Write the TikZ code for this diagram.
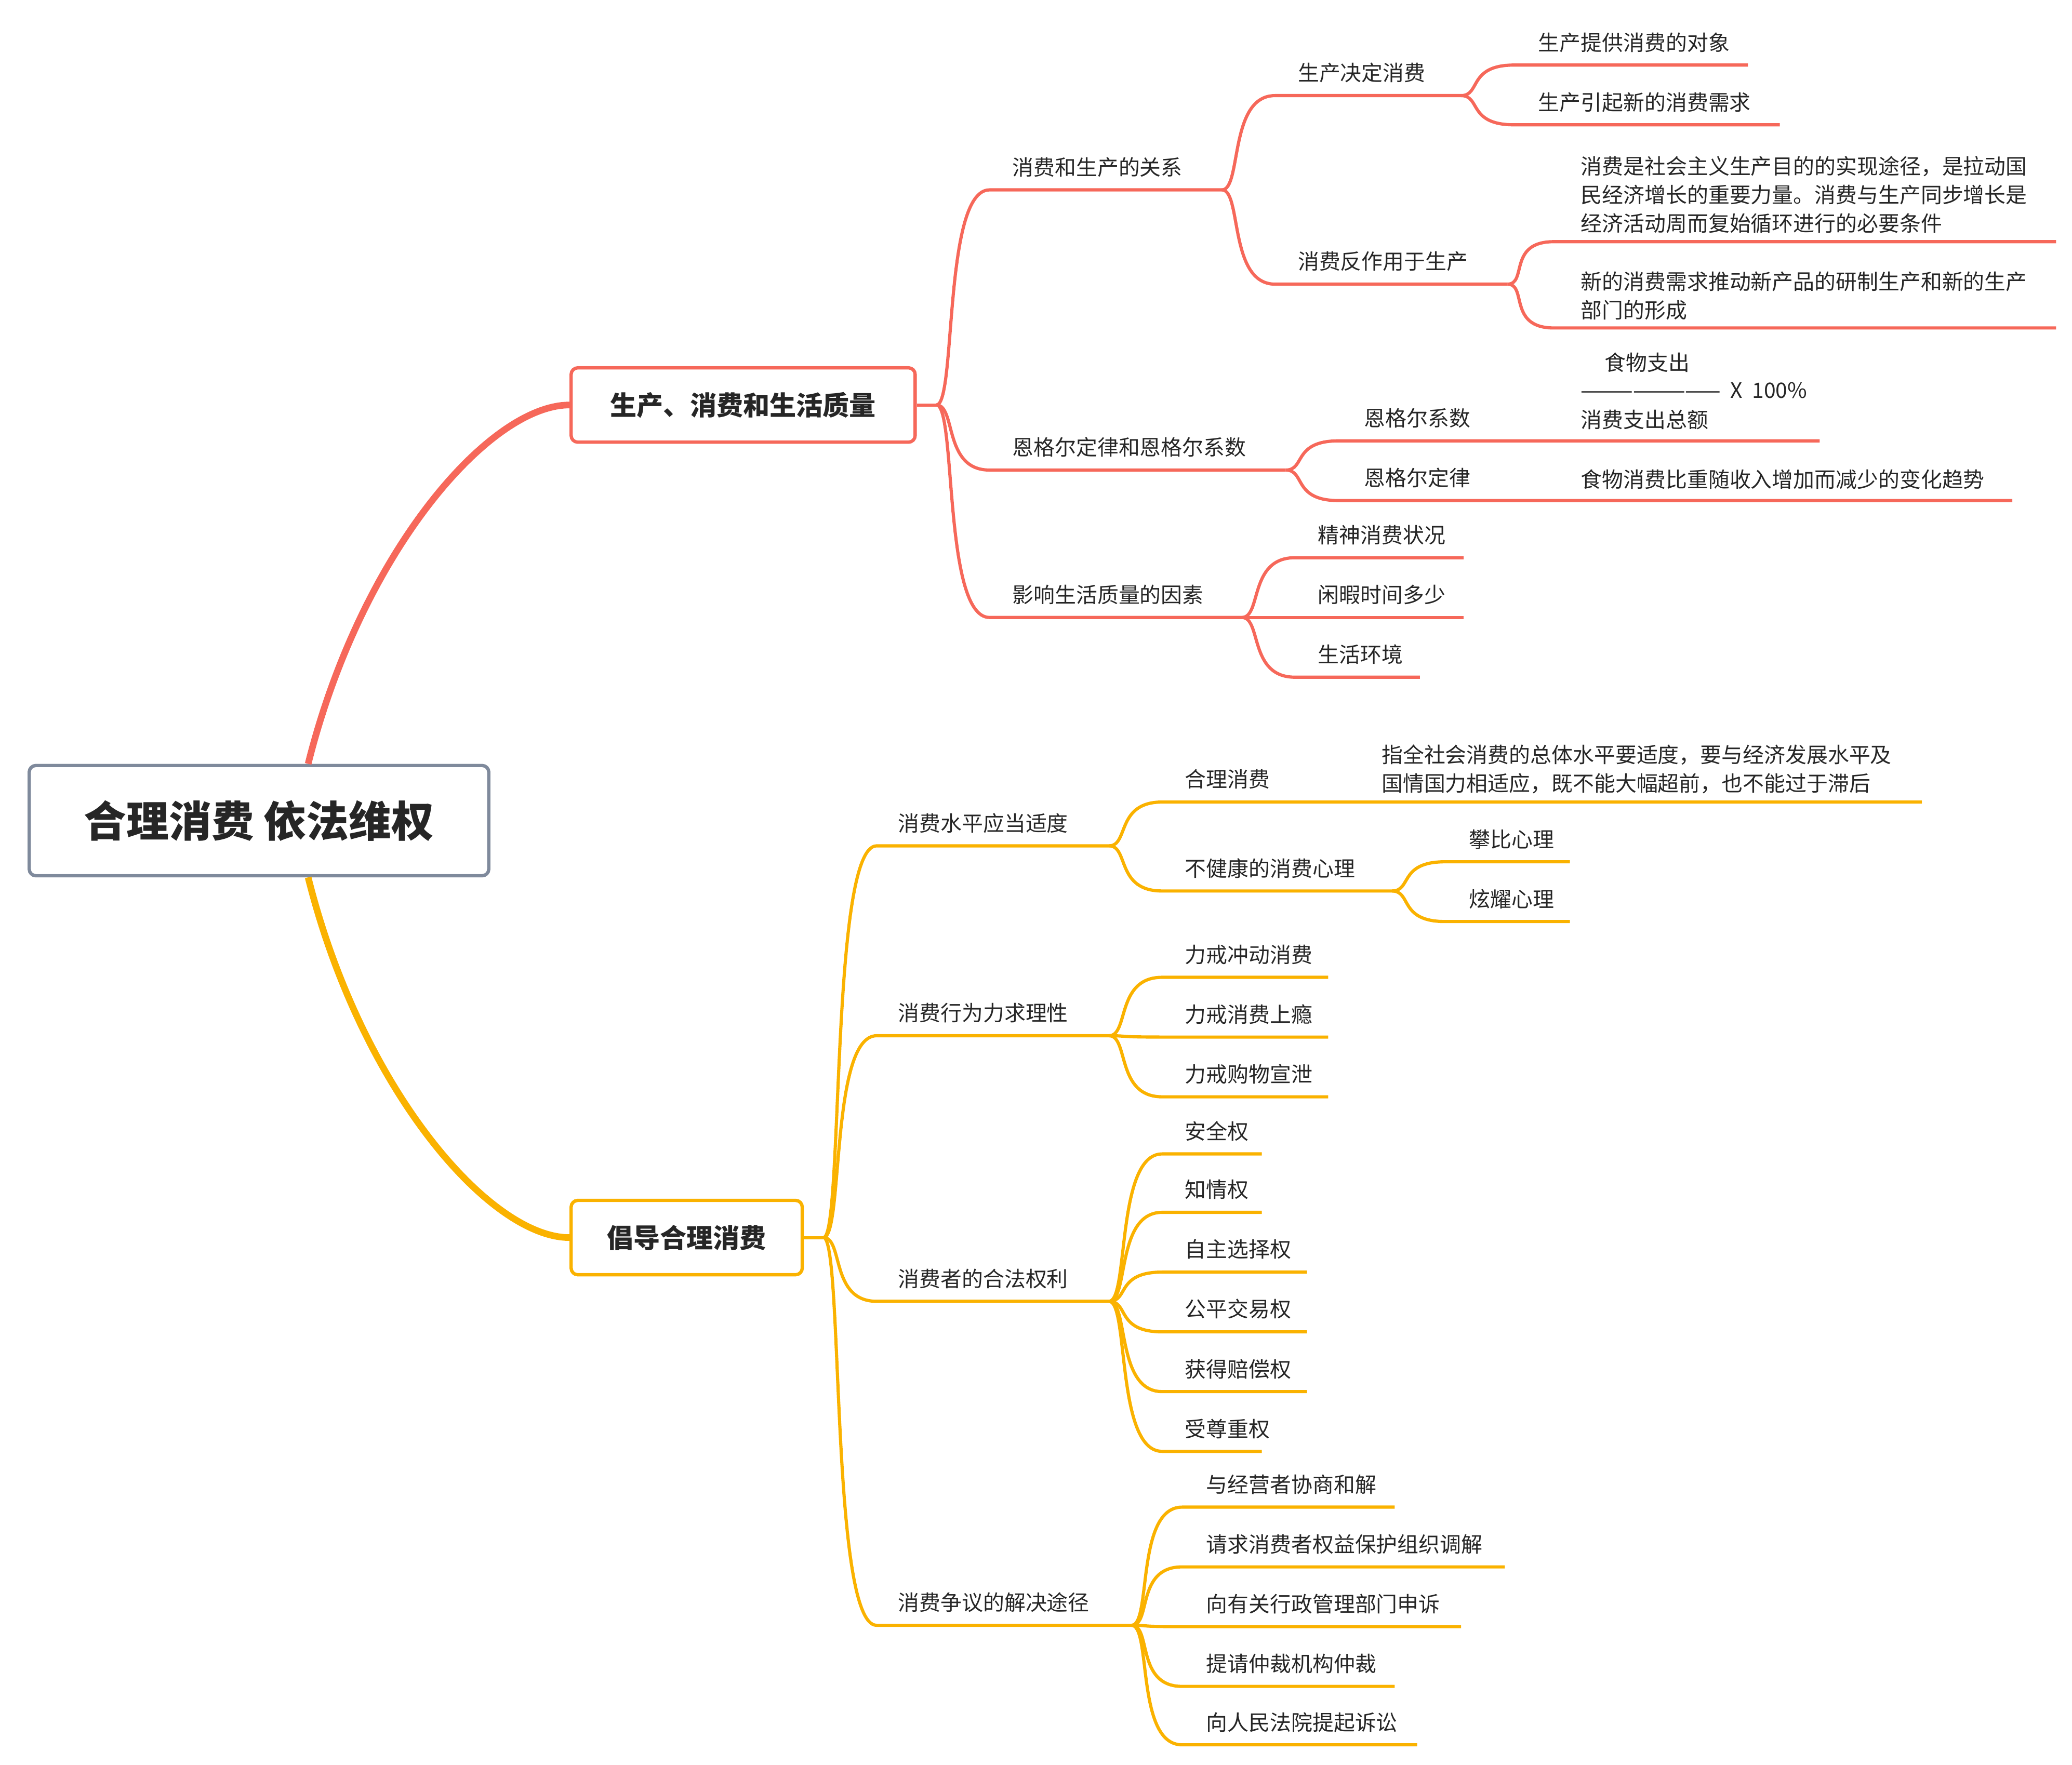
\documentclass[tikz,border=0pt]{standalone}
\usepackage{fontspec}
\setmainfont{Noto Sans CJK SC}
\definecolor{rd}{RGB}{246,104,90}
\definecolor{og}{RGB}{250,178,0}
\definecolor{gr}{RGB}{127,138,156}
\tikzset{lw/.style={line width=2.4pt},
 lbl/.style={anchor=base west,inner sep=0,font=\fontsize{16}{21.5}\selectfont,text=black!85},
 mlbl/.style={anchor=south west,inner sep=0,align=left,font=\fontsize{16}{21.5}\selectfont,text=black!85}}
\newcommand\br[8]{%
 \coordinate (#3-s) at (#5,#4); \coordinate (#3-e) at (#6,#4);
 \draw[#1,lw] (#2) .. controls +(15,0) and +(-35,0) .. (#3-s) -- (#3-e);
 \node[lbl] (#3) at (#7,#4-11) {#8};}
\begin{document}
\begin{tikzpicture}[x=1pt,y=-1pt]
\useasboundingbox (0,0) rectangle (1560,1329);
% root
\node[draw=gr,line width=2.5pt,rounded corners=5pt,minimum width=346pt,minimum height=83pt,font=\fontsize{32}{36}\selectfont\bfseries,text=black!85] (root) at (195,618) {合理消费 依法维权};
\node[draw=rd,line width=2.5pt,rounded corners=5pt,minimum width=259pt,minimum height=56pt,font=\fontsize{20}{24}\selectfont\bfseries,text=black!85] (b1) at (559.5,305) {生产、消费和生活质量};
\node[draw=og,line width=2.5pt,rounded corners=5pt,minimum width=174pt,minimum height=56pt,font=\fontsize{20}{24}\selectfont\bfseries,text=black!85] (b2) at (517,932) {倡导合理消费};
\draw[rd,line width=5pt] ([xshift=37pt]root.north) .. controls +(40,-160) and +(-60,0) .. (b1.west);
\draw[og,line width=5pt] ([xshift=37pt]root.south) .. controls +(40,160) and +(-60,0) .. (b2.west);
\coordinate (t1) at (705,305); \draw[rd,lw] (b1.east) -- (t1);
\coordinate (t2) at (620,932); \draw[og,lw] (b2.east) -- (t2);
% branch 1
\br{rd}{t1}{a1}{143}{745}{920}{762}{消费和生产的关系}
\br{rd}{t1}{a2}{354}{745}{968}{762}{恩格尔定律和恩格尔系数}
\br{rd}{t1}{a3}{465}{745}{935}{762}{影响生活质量的因素}
\br{rd}{a1-e}{a11}{72}{960}{1100}{977}{生产决定消费}
\br{rd}{a1-e}{a12}{214}{960}{1135}{977}{消费反作用于生产}
\br{rd}{a11-e}{a111}{49}{1140}{1316}{1158}{生产提供消费的对象}
\br{rd}{a11-e}{a112}{94}{1140}{1340}{1158}{生产引起新的消费需求}
\br{rd}{a12-e}{a121}{182}{1170}{1548}{1190}{}
\node[mlbl] at (1190,176) {消费是社会主义生产目的的实现途径，是拉动国\\民经济增长的重要力量。消费与生产同步增长是\\经济活动周而复始循环进行的必要条件};
\br{rd}{a12-e}{a122}{247}{1170}{1548}{1190}{}
\node[mlbl] at (1190,241) {新的消费需求推动新产品的研制生产和新的生产\\部门的形成};
\br{rd}{a2-e}{a21}{332}{1008}{1370}{1027}{恩格尔系数}
\br{rd}{a2-e}{a22}{377}{1008}{1515}{1027}{恩格尔定律}
\node[lbl] (f1) at (1208,279) {食物支出};
\node[lbl] (f2) at (1190,300) {————————\ \ X\ \ 100\%};
\node[lbl] (f3) at (1190,322) {消费支出总额};
\node[lbl] (g1) at (1190,367) {食物消费比重随收入增加而减少的变化趋势};
\br{rd}{a3-e}{a31}{420}{975}{1102}{992}{精神消费状况}
\br{rd}{a3-e}{a32}{465}{975}{1102}{992}{闲暇时间多少}
\br{rd}{a3-e}{a33}{510}{975}{1069}{992}{生活环境}
% branch 2
\br{og}{t2}{c1}{637}{660}{835}{676}{消费水平应当适度}
\br{og}{t2}{c2}{780}{660}{835}{676}{消费行为力求理性}
\br{og}{t2}{c3}{980}{660}{835}{676}{消费者的合法权利}
\br{og}{t2}{c4}{1224}{660}{852}{676}{消费争议的解决途径}
\br{og}{c1-e}{c11}{604}{875}{1447}{892}{合理消费}
\node[mlbl] at (1040,598) {指全社会消费的总体水平要适度，要与经济发展水平及\\国情国力相适应，既不能大幅超前，也不能过于滞后};
\br{og}{c1-e}{c12}{671}{875}{1048}{892}{不健康的消费心理}
\br{og}{c12-e}{c121}{649}{1088}{1182}{1106}{攀比心理}
\br{og}{c12-e}{c122}{694}{1088}{1182}{1106}{炫耀心理}
\br{og}{c2-e}{c21}{736}{875}{1000}{892}{力戒冲动消费}
\br{og}{c2-e}{c22}{781}{875}{1000}{892}{力戒消费上瘾}
\br{og}{c2-e}{c23}{826}{875}{1000}{892}{力戒购物宣泄}
\br{og}{c3-e}{c31}{869}{875}{950}{892}{安全权}
\br{og}{c3-e}{c32}{913}{875}{950}{892}{知情权}
\br{og}{c3-e}{c33}{958}{875}{984}{892}{自主选择权}
\br{og}{c3-e}{c34}{1003}{875}{984}{892}{公平交易权}
\br{og}{c3-e}{c35}{1048}{875}{984}{892}{获得赔偿权}
\br{og}{c3-e}{c36}{1093}{875}{950}{892}{受尊重权}
\br{og}{c4-e}{c41}{1135}{890}{1050}{908}{与经营者协商和解}
\br{og}{c4-e}{c42}{1180}{890}{1133}{908}{请求消费者权益保护组织调解}
\br{og}{c4-e}{c43}{1225}{890}{1100}{908}{向有关行政管理部门申诉}
\br{og}{c4-e}{c44}{1270}{890}{1050}{908}{提请仲裁机构仲裁}
\br{og}{c4-e}{c45}{1314}{890}{1067}{908}{向人民法院提起诉讼}
\end{tikzpicture}
\end{document}
